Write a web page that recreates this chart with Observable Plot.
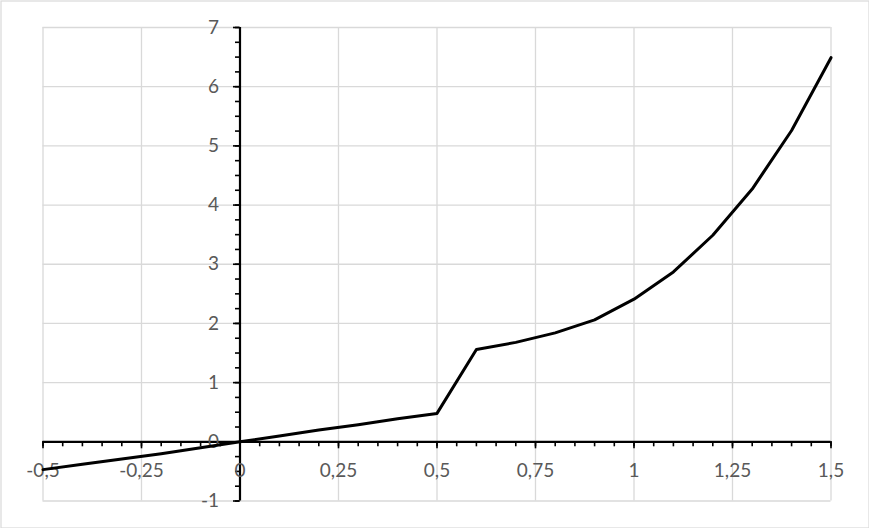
<!DOCTYPE html>
<html>
<head>
<meta charset="utf-8">
<script src="https://cdn.jsdelivr.net/npm/d3@7"></script>
<script src="https://cdn.jsdelivr.net/npm/@observablehq/plot@0.6"></script>
<style>
  html, body { margin: 0; padding: 0; background: #fff; }
  #chart svg { display: block; }
</style>
</head>
<body>
<div id="chart"></div>
<script>
const xValues = [-0.5, -0.4, -0.3, -0.2, -0.1, 0, 0.1, 0.2, 0.3, 0.4, 0.5, 0.6, 0.7, 0.8, 0.9, 1.0, 1.1, 1.2, 1.3, 1.4, 1.5];
const yValues = [-0.47, -0.38, -0.29, -0.2, -0.1, 0, 0.1, 0.2, 0.29, 0.39, 0.48, 1.56, 1.68, 1.84, 2.06, 2.41, 2.87, 3.49, 4.27, 5.26, 6.49];

const xTicks = [-0.5, -0.25, 0, 0.25, 0.5, 0.75, 1, 1.25, 1.5];
const xTickLabels = ["-0,5", "-0,25", "0", "0,25", "0,5", "0,75", "1", "1,25", "1,5"];
const yTicks = [-1, 0, 1, 2, 3, 4, 5, 6, 7];
const yTickLabels = ["-1", "0", "1", "2", "3", "4", "5", "6", "7"];

const data = xValues.map((x, i) => ({x, y: yValues[i]}));
const xMinor = d3.range(-0.5, 1.5001, 0.05).map(v => Math.round(v * 100) / 100);
const yMinor = d3.range(-1, 7.001, 0.25);
const xLab = xTicks.map((v, i) => ({v, t: xTickLabels[i]}));
const yLab = yTicks.map((v, i) => ({v, t: yTickLabels[i]}));

const grid = "#d9d9d9";
const labColor = "#595959";

const chart = Plot.plot({
  width: 869,
  height: 528,
  marginLeft: 42.5,
  marginRight: 38.5,
  marginTop: 27,
  marginBottom: 27.5,
  x: {domain: [-0.5, 1.5], axis: null},
  y: {domain: [-1, 7], axis: null},
  style: {fontFamily: "Lato, 'Open Sans', sans-serif", background: "#fff"},
  marks: [
    Plot.frame({stroke: grid, strokeWidth: 1.2, insetLeft: -42, insetRight: -38, insetTop: -26.5, insetBottom: -27}),
    Plot.ruleX(xTicks, {x: d => d, y1: -1, y2: 7, stroke: grid, strokeWidth: 1.3}),
    Plot.ruleY(yTicks, {y: d => d, x1: -0.5, x2: 1.5, stroke: grid, strokeWidth: 1.3}),
    // minor ticks
    Plot.ruleX(xMinor, {x: d => d, y1: 0, y2: 0, insetTop: 0, insetBottom: -5, stroke: "#000", strokeWidth: 1.6}),
    Plot.ruleX(xTicks, {x: d => d, y1: 0, y2: 0, insetTop: 0, insetBottom: -7, stroke: "#000", strokeWidth: 1.6}),
    Plot.ruleY(yMinor, {y: d => d, x1: 0, x2: 0, insetLeft: -4.5, insetRight: 0, stroke: "#000", strokeWidth: 1.6}),
    Plot.ruleY(yTicks, {y: d => d, x1: 0, x2: 0, insetLeft: -6.5, insetRight: 0, stroke: "#000", strokeWidth: 1.6}),
    // axis lines
    Plot.ruleY([0], {x1: -0.5, x2: 1.5, stroke: "#000", strokeWidth: 2.2}),
    Plot.ruleX([0], {y1: -1, y2: 7, stroke: "#000", strokeWidth: 2.2}),
    // labels
    Plot.text(xLab, {x: "v", y: () => 0, text: "t", dy: 29, fill: labColor, fontSize: 19, textAnchor: "middle"}),
    Plot.text(yLab, {x: () => 0, y: "v", text: "t", dx: -21, fill: labColor, fontSize: 19, textAnchor: "end"}),
    // data line
    Plot.line(data, {x: "x", y: "y", stroke: "#000", strokeWidth: 3, strokeLinejoin: "round"})
  ]
});
document.getElementById("chart").appendChild(chart);
</script>
</body>
</html>
